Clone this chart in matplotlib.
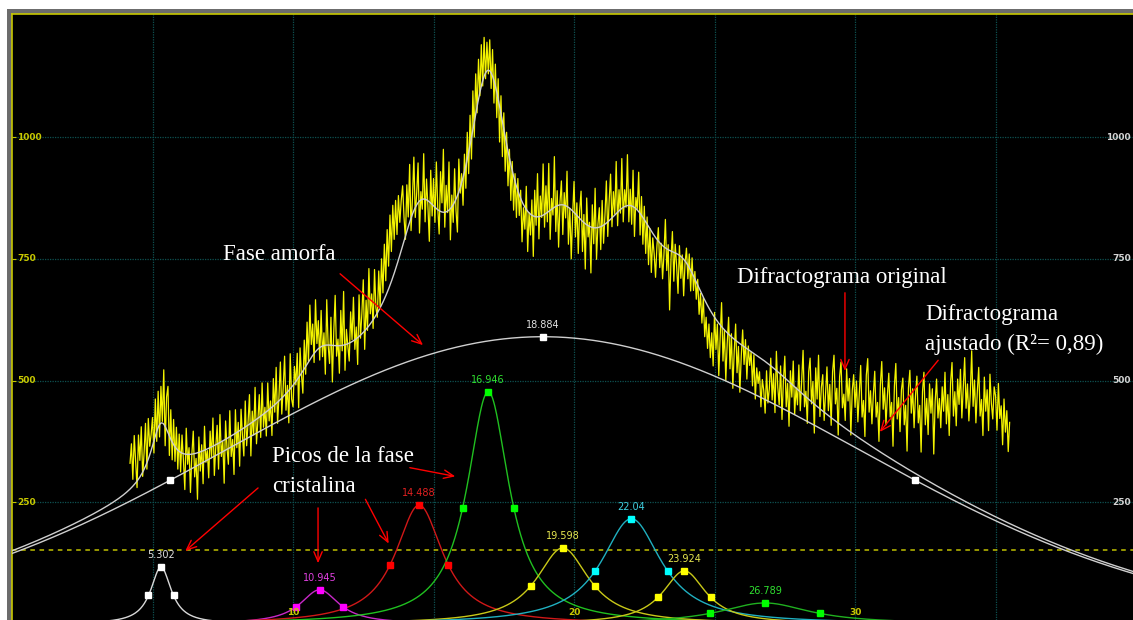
import numpy as np
import matplotlib.pyplot as plt
from matplotlib.patches import Rectangle

# measured pattern, 2-theta from 4.2 to 35.5 in 0.05 steps
two_theta_start = 4.2
two_theta_step = 0.05
counts = [
    330, 370, 297, 387, 333, 280, 388, 336, 405, 303, 351, 412, 318, 422, 365, 389,
    424, 351, 462, 375, 478, 384, 488, 416, 522, 366, 466, 488, 346, 440, 337, 420, 334, 404, 318, 390,
    312, 388, 336, 276, 402, 328, 362, 270, 348, 396, 302, 340, 256, 384, 314, 368, 288, 406, 332, 356,
    300, 396, 341, 423, 305, 363, 408, 318, 430, 344, 375, 289, 417, 362, 328, 438, 344, 379, 307, 440,
    362, 414, 324, 441, 387, 345, 458, 366, 414, 471, 345, 437, 388, 486, 370, 418, 471, 383, 495, 404,
    445, 386, 495, 417, 458, 387, 504, 435, 527, 412, 467, 538, 431, 485, 550, 439, 490, 413, 555, 462,
    446, 529, 491, 556, 444, 567, 512, 474, 583, 513, 620, 539, 655, 574, 616, 537, 666, 576, 623, 542,
    644, 549, 598, 513, 666, 572, 535, 630, 497, 601, 675, 550, 585, 515, 644, 561, 683, 521, 605, 571,
    540, 641, 584, 671, 564, 610, 533, 676, 587, 638, 707, 564, 665, 603, 730, 637, 678, 607, 728, 649,
    630, 725, 650, 750, 680, 780, 705, 810, 735, 840, 765, 860, 790, 870, 800, 880, 825, 870, 900, 835,
    790, 902, 836, 944, 808, 875, 959, 835, 885, 947, 803, 888, 852, 966, 826, 914, 858, 786, 932, 838,
    915, 825, 949, 855, 801, 929, 865, 975, 815, 901, 845, 949, 789, 881, 825, 935, 849, 805, 955, 885,
    925, 860, 965, 895, 1010, 925, 1045, 955, 1095, 1000, 1130, 1050, 1160, 1085, 1190, 1105, 1205, 1120, 1195, 1130,
    1200, 1100, 1180, 1070, 1150, 1040, 1120, 990, 1085, 960, 1050, 930, 1010, 900, 975, 870, 950, 850, 925, 835,
    915, 839, 891, 785, 855, 811, 899, 765, 845, 799, 871, 755, 891, 819, 925, 791, 879, 835, 945, 815,
    900, 826, 946, 790, 874, 840, 960, 806, 890, 774, 866, 910, 800, 886, 834, 930, 780, 854, 750, 840,
    909, 795, 865, 761, 849, 889, 765, 841, 729, 875, 795, 825, 721, 861, 781, 895, 749, 821, 855, 769,
    870, 782, 840, 910, 796, 870, 924, 816, 888, 842, 950, 818, 892, 844, 956, 826, 892, 856, 964, 826,
    893, 821, 932, 796, 876, 852, 928, 799, 878, 780, 858, 761, 836, 738, 812, 722, 793, 761, 712, 777,
    814, 732, 782, 709, 760, 831, 726, 779, 645, 749, 806, 704, 780, 736, 679, 777, 710, 758, 674, 741,
    772, 709, 760, 684, 752, 685, 724, 667, 708, 636, 679, 618, 670, 590, 630, 566, 616, 547, 598, 530,
    640, 564, 616, 510, 590, 660, 540, 604, 500, 576, 630, 524, 596, 484, 560, 616, 516, 570, 476, 550,
    604, 533, 584, 503, 571, 531, 559, 489, 553, 462, 526, 494, 518, 446, 502, 480, 433, 520, 454, 484,
    546, 460, 514, 434, 560, 486, 450, 530, 420, 500, 550, 446, 494, 406, 520, 466, 540, 430, 486, 450,
    532, 438, 502, 562, 446, 478, 412, 518, 546, 452, 498, 392, 526, 462, 552, 426, 486, 512, 418, 472,
    528, 438, 492, 408, 518, 552, 452, 484, 388, 508, 538, 444, 472, 418, 524, 458, 504, 388, 480, 512,
    445, 499, 415, 475, 531, 425, 459, 385, 511, 545, 435, 479, 411, 471, 519, 425, 455, 375, 491, 539,
    441, 485, 409, 469, 515, 425, 455, 365, 489, 535, 421, 465, 395, 481, 505, 409, 449, 355, 485, 521,
    433, 483, 403, 469, 509, 413, 449, 353, 477, 517, 409, 463, 389, 493, 433, 483, 349, 457, 503, 423,
    463, 403, 487, 437, 517, 411, 471, 387, 497, 537, 427, 477, 407, 503, 451, 523, 423, 487, 547, 443,
    493, 417, 473, 561, 447, 501, 413, 477, 527, 427, 461, 387, 507, 437, 481, 397, 513, 453, 421, 487,
    468, 398, 494, 422, 448, 368, 462, 394, 438, 354, 414,
]

# amorphous halo (gaussian)
amorph_center = 18.884
amorph_height = 590
amorph_hwhm = 13.26

# crystalline peaks (lorentzian)
peak_centers = [5.302, 10.945, 14.488, 16.946, 19.598, 22.04, 23.924, 26.789]
peak_heights = [117, 70, 244, 477, 156, 216, 109, 43]
peak_hwhm = [0.445, 0.84, 1.03, 0.91, 1.14, 1.30, 0.94, 1.96]
peak_labels = ["5.302", "10.945", "14.488", "16.946", "19.598", "22.04", "23.924", "26.789"]
line_colors = ["#d8d8d8", "#c828c8", "#d01818", "#20c020", "#c8c818", "#20b0c0", "#c8c818", "#20b020"]
mark_colors = ["#ffffff", "#ff00ff", "#ff0000", "#00ff00", "#ffff00", "#00ffff", "#ffff00", "#00ff00"]
text_colors = ["#e0e0e0", "#e040e0", "#e02020", "#30e030", "#e8e850", "#40d0e0", "#e8e850", "#30e030"]

baseline_level = 152
y_ticks = [250, 500, 750, 1000]
y_ticklabels = ["250", "500", "750", "1000"]
x_grid = [5, 10, 15, 20, 25, 30, 35]
x_ticks = [10, 20, 30]


def gauss(x, c, h, w):
    return h * np.exp(-np.log(2) * ((x - c) / w) ** 2)


def lorentz(x, c, h, w):
    return h / (1 + ((x - c) / w) ** 2)


W, H = 1133, 620
fig = plt.figure(figsize=(W / 100, H / 100), dpi=100, facecolor="white")
frame = Rectangle((7 / W, 0), 1 - 7 / W, 611 / H, transform=fig.transFigure,
                  facecolor="#6c6c6c", edgecolor="none")
frame.set_zorder(-5)
fig.add_artist(frame)
ax = fig.add_axes([12 / W, 0, 1 - 12 / W, 606 / H])
ax.set_zorder(2)
ax.set_facecolor("black")
ax.set_xlim(0, 39.89)
ax.set_ylim(8, 1253)

for side in ["right", "bottom"]:
    ax.spines[side].set_visible(False)
for side in ["left", "top"]:
    ax.spines[side].set_color("#c8c800")
    ax.spines[side].set_linewidth(1.2)

ax.set_xticks(x_grid)
ax.set_yticks(y_ticks)
ax.tick_params(axis="x", length=0, labelbottom=False)
ax.tick_params(axis="y", direction="in", length=3, color="#c8c800", labelleft=False)
ax.grid(True, color="#0e5050", linestyle=(0, (1, 1)), linewidth=0.9)

# axis labels drawn inside the frame, as the fitting program does
ytr = ax.get_yaxis_transform()
for v, s in zip(y_ticks, y_ticklabels):
    ax.text(0.0045, v, s, transform=ytr, color="#c8c800", fontsize=6.5,
            fontweight="bold", ha="left", va="center", zorder=6)
    ax.text(0.998, v, s, transform=ytr, color="#d4d4d4", fontsize=6.5,
            fontweight="bold", ha="right", va="center", zorder=6)
xtr = ax.get_xaxis_transform()
for v in x_ticks:
    ax.text(v, 0.013, str(v), transform=xtr, color="#c8c800", fontsize=6.5,
            fontweight="bold", ha="center", va="center", zorder=6)

ax.axhline(baseline_level, color="#c0c000", linestyle=(0, (3, 3)), linewidth=1.1, zorder=2)

tt = two_theta_start + two_theta_step * np.arange(len(counts))
ax.plot(tt, counts, color="#f4f400", linewidth=0.9, zorder=3)

xs = np.linspace(0, 39.89, 2000)
amorph = gauss(xs, amorph_center, amorph_height, amorph_hwhm)
total = amorph.copy()
for c, h, w, lc, mc, tc, lab in zip(peak_centers, peak_heights, peak_hwhm,
                                     line_colors, mark_colors, text_colors, peak_labels):
    curve = lorentz(xs, c, h, w)
    total += curve
    ax.plot(xs, curve, color=lc, linewidth=1.0, zorder=4)
    ax.plot([c - w, c, c + w], [h / 2, h, h / 2], "s", color=mc, markersize=5, zorder=5)
    ax.text(c, h + 14, lab, color=tc, fontsize=7, ha="center", va="bottom", zorder=6)

ax.plot(xs, amorph, color="#cfcfcf", linewidth=1.0, zorder=4)
ax.plot([amorph_center - amorph_hwhm, amorph_center, amorph_center + amorph_hwhm],
        [amorph_height / 2, amorph_height, amorph_height / 2], "s",
        color="white", markersize=5, zorder=5)
ax.text(amorph_center, amorph_height + 14, "18.884", color="#e0e0e0", fontsize=7,
        ha="center", va="bottom", zorder=6)
ax.plot(xs, total, color="#cfcfcf", linewidth=1.0, zorder=4)

# annotations
serif = "Liberation Serif"
tkw = dict(color="white", fontsize=16.5, family=serif, ha="left", va="baseline", zorder=7)
akw = dict(arrowstyle="->,head_length=0.7,head_width=0.3", color="red", lw=1.0)

ax.text(7.51, 748, "Fase amorfa", **tkw)
ax.annotate("", xy=(14.7, 569), xytext=(11.6, 723), arrowprops=akw, zorder=7)

ax.text(9.25, 333, "Picos de la fase", **tkw)
ax.text(9.25, 271, "cristalina", **tkw)
ax.annotate("", xy=(6.09, 146), xytext=(8.83, 283), arrowprops=akw, zorder=7)
ax.annotate("", xy=(10.89, 119), xytext=(10.89, 244), arrowprops=akw, zorder=7)
ax.annotate("", xy=(13.45, 160), xytext=(12.53, 261), arrowprops=akw, zorder=7)
ax.annotate("", xy=(15.87, 302), xytext=(14.06, 322), arrowprops=akw, zorder=7)

ax.text(25.8, 700, "Difractograma original", **tkw)
ax.annotate("", xy=(29.64, 514), xytext=(29.64, 686), arrowprops=akw, zorder=7)

ax.text(32.49, 624, "Difractograma", **tkw)
ax.text(32.49, 563, "ajustado (R²= 0,89)", **tkw)
ax.annotate("", xy=(30.82, 390), xytext=(33.02, 546), arrowprops=akw, zorder=7)

fig.savefig("out.png", dpi=100, facecolor="white")
